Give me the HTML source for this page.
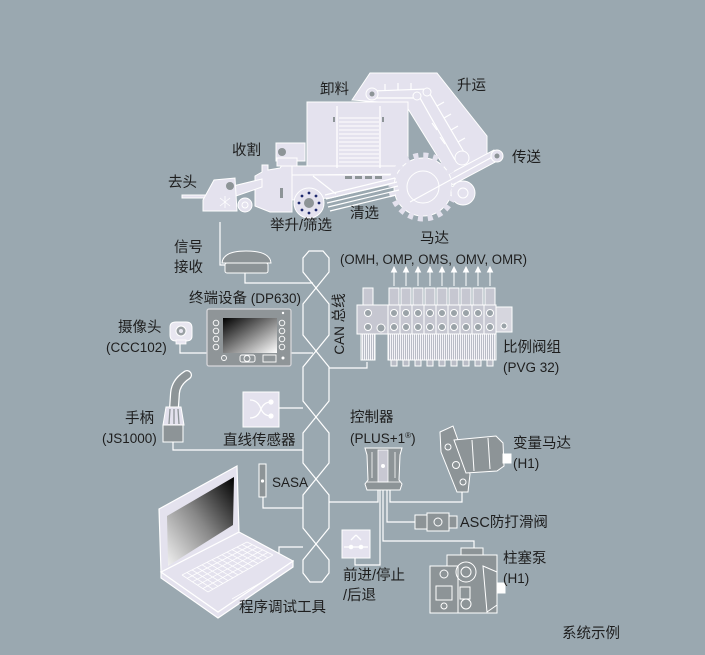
<!DOCTYPE html>
<html><head><meta charset="utf-8"><style>
html,body{margin:0;padding:0;background:#9aa8b0;}
svg{display:block;}
text{font-family:"Liberation Sans","Noto Sans CJK SC",sans-serif;fill:#1e1e1e;}
.c{font-size:14.5px;}
.l{font-size:13.5px;}
</style></head><body>
<svg width="705" height="655" viewBox="0 0 705 655" xmlns="http://www.w3.org/2000/svg">
<defs>
<linearGradient id="scr" x1="0" y1="0" x2="1" y2="1">
<stop offset="0" stop-color="#000"/><stop offset="1" stop-color="#fff"/>
</linearGradient>
<linearGradient id="lap" x1="0" y1="1" x2="1" y2="0">
<stop offset="0" stop-color="#f2f2f2"/><stop offset="0.5" stop-color="#888"/><stop offset="1" stop-color="#000"/>
</linearGradient>
<pattern id="stripe" width="2" height="4" patternUnits="userSpaceOnUse">
<rect width="2" height="4" fill="#b9bcc6"/><rect width="1" height="4" fill="#f4f4f8"/>
</pattern>
</defs>
<rect width="705" height="655" fill="#9aa8b0"/>

<!-- ================= HARVESTER ================= -->
<g stroke="#fff" stroke-width="1" fill="#e4e2ee">
<polygon points="352,100 370,73 437,73 487,136 487,158 462,174 446,170 405,104"/>
<rect x="307" y="102" width="101" height="68"/>
<polygon points="292,166 410,166 412,174 292,175"/>
<polygon points="292,175 405,175 400,182 330,198 292,200"/>
<polygon points="255,176 262,172 262,165 268,165 268,170 280,168 285,161 292,161 292,212 270,212 255,206"/>
<rect x="276" y="143" width="29" height="18"/>
<rect x="277" y="158" width="20" height="8"/>
<polygon points="233,186 262,179 262,187 236,196"/>
<rect x="182" y="195" width="33" height="3"/>
<polygon points="203,200 214,180 235,178 237,211 203,211"/>
<polygon points="406,197 494,150 501,159 411,207"/>
<circle cx="423" cy="187" r="29"/>
<circle cx="463" cy="193" r="12"/>
<circle cx="309" cy="203" r="15"/>
<circle cx="245" cy="205" r="7"/>
</g>
<circle cx="423" cy="187" r="31.5" fill="none" stroke="#e4e2ee" stroke-width="6" stroke-dasharray="5 4.9"/>
<circle cx="423" cy="187" r="16" fill="none" stroke="#fff" stroke-width="1"/>
<circle cx="463" cy="193" r="5" fill="none" stroke="#fff" stroke-width="1"/>
<circle cx="245" cy="205" r="3" fill="none" stroke="#fff" stroke-width="1"/>
<g stroke="#fff" stroke-width="1.3">
<line x1="337" y1="106" x2="337" y2="168"/><line x1="380" y1="106" x2="380" y2="168"/>
</g>
<g stroke="#fff" stroke-width="1">
<line x1="339" y1="118" x2="379" y2="118"/><line x1="339" y1="122" x2="379" y2="122"/>
<line x1="339" y1="126" x2="379" y2="126"/><line x1="339" y1="130" x2="379" y2="130"/>
<line x1="339" y1="134" x2="379" y2="134"/><line x1="339" y1="138" x2="379" y2="138"/>
<line x1="339" y1="142" x2="379" y2="142"/><line x1="339" y1="146" x2="379" y2="146"/>
<line x1="339" y1="150" x2="379" y2="150"/><line x1="339" y1="154" x2="379" y2="154"/>
<line x1="339" y1="158" x2="379" y2="158"/><line x1="339" y1="162" x2="379" y2="162"/>
</g>
<rect x="333" y="117" width="2" height="5" fill="#8d9497"/><rect x="382" y="117" width="2" height="5" fill="#8d9497"/>
<g stroke="#fff" stroke-width="1.2" fill="none">
<polyline points="372,91 427,89 464,152"/>
<polyline points="372,98 420,98 455,160"/>
<line x1="385" y1="91" x2="385" y2="84"/><line x1="398" y1="90" x2="398" y2="83"/><line x1="411" y1="90" x2="411" y2="83"/>
<line x1="437" y1="106" x2="444" y2="102"/><line x1="444" y1="118" x2="451" y2="114"/><line x1="451" y1="130" x2="458" y2="126"/><line x1="458" y1="142" x2="465" y2="138"/>
<line x1="432" y1="123" x2="437" y2="130"/><line x1="440" y1="137" x2="445" y2="144"/>
<line x1="410" y1="202" x2="496" y2="155"/>
<line x1="325" y1="195" x2="395" y2="178"/><line x1="326" y1="199" x2="397" y2="182"/>
<line x1="327" y1="203" x2="398" y2="186"/><line x1="328" y1="207" x2="399" y2="190"/>
<line x1="330" y1="211" x2="396" y2="195"/>
<line x1="313" y1="176" x2="336" y2="194"/>
</g>
<g stroke="#fff" stroke-width="1" fill="#e4e2ee">
<circle cx="372" cy="94" r="6"/><circle cx="417" cy="96" r="4"/><circle cx="427" cy="92" r="4"/>
<circle cx="462" cy="158" r="7"/><circle cx="497" cy="156" r="6"/>
</g>
<g fill="#8d9497">
<circle cx="372" cy="94" r="2.5"/><circle cx="497" cy="156" r="2.5"/>
<circle cx="282" cy="152" r="4"/><circle cx="230" cy="186" r="4"/>
<circle cx="309" cy="203" r="5"/>
<rect x="280" y="188" width="3" height="10"/>
<rect x="345" y="176" width="7" height="3"/><rect x="355" y="176" width="7" height="3"/><rect x="365" y="176" width="7" height="3"/><rect x="375" y="176" width="7" height="3"/>
</g>
<g fill="#1e2a6e">
<circle cx="319" cy="203" r="1.4"/><circle cx="299" cy="203" r="1.4"/><circle cx="309" cy="193" r="1.4"/><circle cx="309" cy="213" r="1.4"/>
<circle cx="316" cy="196" r="1.4"/><circle cx="302" cy="196" r="1.4"/><circle cx="316" cy="210" r="1.4"/><circle cx="302" cy="210" r="1.4"/>
</g>
<g stroke="#fff" stroke-width="0.8"><line x1="220" y1="198" x2="230" y2="206"/><line x1="220" y1="206" x2="230" y2="198"/><line x1="225" y1="196" x2="225" y2="208"/></g>

<text class="c" x="320" y="94">卸料</text>
<text class="c" x="457" y="90">升运</text>
<text class="c" x="512" y="162">传送</text>
<text class="c" x="232" y="155">收割</text>
<text class="c" x="168" y="187">去头</text>
<text class="c" x="270" y="230">举升/筛选</text>
<text class="c" x="350" y="218">清选</text>

<!-- ================= CONNECTORS ================= -->
<g stroke="#fff" stroke-width="1.2" fill="none">
<polyline points="220,222 220,265 225,265"/>
<polyline points="245,273 245,283 313,283"/>
<polyline points="291,353 313,353"/>
<polyline points="180,343 180,353 207,353"/>
<polyline points="329,368 367,368 367,362"/>
<polyline points="279,408 303,408"/>
<polyline points="173,442 173,450 303,450"/>
<polyline points="263,497 263,508 303,508"/>
<polyline points="279,560 279,547 303,547"/>
<polyline points="329,502 378,502 378,490"/>
<polyline points="390,490 390,502 462,502 462,492"/>
<polyline points="387,490 387,522 415,522"/>
<polyline points="383,490 383,541 474,541 474,548"/>
<polyline points="380,490 380,565 355,565 355,558"/>
<polyline points="316,251 309,251 303,258 303,272 329,304 329,335 303,367 303,401 329,433 329,463 303,495 303,528 329,560 329,573 322,582 316,582"/>
<polyline points="316,251 323,251 329,258 329,272 303,304 303,335 329,367 329,401 303,433 303,463 329,495 329,528 303,560 303,573 310,582 316,582"/>
</g>

<!-- ================= RECEIVER ================= -->
<path d="M222,263 Q223,251 246,251 Q270,251 271,263 Z" fill="#8d9497" stroke="#fff" stroke-width="1"/>
<rect x="225" y="263" width="43" height="10" rx="2" fill="#8d9497" stroke="#fff" stroke-width="1"/>
<text class="c" x="174" y="252">信号</text>
<text class="c" x="174" y="272">接收</text>

<!-- ================= TERMINAL ================= -->
<rect x="207" y="309" width="84" height="57" rx="2" fill="#8f9598" stroke="#d6d6da" stroke-width="1.3"/>
<rect x="223" y="318" width="54" height="35" fill="url(#scr)"/>
<g fill="#8f9598" stroke="#fff" stroke-width="0.9">
<circle cx="216" cy="323" r="2.8"/><circle cx="216" cy="331" r="2.8"/><circle cx="216" cy="339" r="2.8"/><circle cx="216" cy="347" r="2.8"/>
<circle cx="282" cy="323" r="2.8"/><circle cx="282" cy="331" r="2.8"/><circle cx="282" cy="339" r="2.8"/><circle cx="282" cy="347" r="2.8"/>
<circle cx="224" cy="358" r="2.5"/>
<rect x="240" y="355" width="15" height="7" rx="2"/><circle cx="247" cy="358.5" r="3"/>
<rect x="263" y="355" width="13" height="7"/>
</g>
<circle cx="283" cy="358" r="1.5" fill="#fff"/><circle cx="283" cy="313" r="1.2" fill="#fff"/>
<text x="189" y="303"><tspan class="c">终端设备</tspan><tspan class="l"> (DP630)</tspan></text>

<!-- ================= CAMERA ================= -->
<path d="M170,327 Q170,322 176,322 L186,322 Q192,322 192,328 L192,336 Q192,341 186,341 L176,341 Q170,341 170,335 Z" fill="#e8e6f0" stroke="#fff" stroke-width="1"/>
<rect x="176" y="340" width="10" height="4" fill="#e8e6f0" stroke="#fff" stroke-width="0.8"/>
<circle cx="181" cy="331" r="5" fill="#9aa0a4" stroke="#fff" stroke-width="1"/>
<circle cx="181" cy="331" r="2" fill="#e8e6f0"/>
<text class="c" x="118" y="332">摄像头</text>
<text class="l" x="106" y="352">(CCC102)</text>

<text class="l" transform="translate(344,324) rotate(-90)" text-anchor="middle"><tspan>CAN </tspan><tspan class="c">总线</tspan></text>

<!-- ================= VALVE BLOCK ================= -->
<g stroke="#fff" stroke-width="1">
<g fill="#fff">
<line x1="394" y1="286" x2="394" y2="271"/><polygon points="391.5,272 396.5,272 394,267"/>
<line x1="406" y1="286" x2="406" y2="271"/><polygon points="403.5,272 408.5,272 406,267"/>
<line x1="418" y1="286" x2="418" y2="271"/><polygon points="415.5,272 420.5,272 418,267"/>
<line x1="430" y1="286" x2="430" y2="271"/><polygon points="427.5,272 432.5,272 430,267"/>
<line x1="442" y1="286" x2="442" y2="271"/><polygon points="439.5,272 444.5,272 442,267"/>
<line x1="454" y1="286" x2="454" y2="271"/><polygon points="451.5,272 456.5,272 454,267"/>
<line x1="466" y1="286" x2="466" y2="271"/><polygon points="463.5,272 468.5,272 466,267"/>
<line x1="478" y1="286" x2="478" y2="271"/><polygon points="475.5,272 480.5,272 478,267"/>
<line x1="490" y1="286" x2="490" y2="271"/><polygon points="487.5,272 492.5,272 490,267"/>
</g>
<g fill="#c6c7d1">
<rect x="363" y="288" width="10" height="17"/>
<rect x="389" y="288" width="10" height="17"/><rect x="401" y="288" width="10" height="17"/><rect x="413" y="288" width="10" height="17"/>
<rect x="425" y="288" width="10" height="17"/><rect x="437" y="288" width="10" height="17"/><rect x="449" y="288" width="10" height="17"/>
<rect x="461" y="288" width="10" height="17"/><rect x="473" y="288" width="10" height="17"/><rect x="485" y="288" width="10" height="17"/>
</g>
<rect x="357" y="305" width="31" height="29" fill="#c6c7d1"/>
<g fill="#c6c7d1">
<rect x="388" y="305" width="12" height="29"/><rect x="400" y="305" width="12" height="29"/><rect x="412" y="305" width="12" height="29"/>
<rect x="424" y="305" width="12" height="29"/><rect x="436" y="305" width="12" height="29"/><rect x="448" y="305" width="12" height="29"/>
<rect x="460" y="305" width="12" height="29"/><rect x="472" y="305" width="12" height="29"/><rect x="484" y="305" width="12" height="29"/>
</g>
<rect x="496" y="307" width="16" height="25" fill="#d6d6de"/>
<rect x="361" y="334" width="14" height="26" fill="url(#stripe)"/>
<rect x="388" y="334" width="108" height="26" fill="url(#stripe)"/>
<g fill="#b9bcc6">
<rect x="391" y="360" width="6" height="6"/><rect x="403" y="360" width="6" height="6"/><rect x="415" y="360" width="6" height="6"/>
<rect x="427" y="360" width="6" height="6"/><rect x="439" y="360" width="6" height="6"/><rect x="451" y="360" width="6" height="6"/>
<rect x="463" y="360" width="6" height="6"/><rect x="475" y="360" width="6" height="6"/><rect x="487" y="360" width="6" height="6"/>
</g>
<g fill="#9aa3a8">
<circle cx="368" cy="313" r="3.5"/><circle cx="368" cy="327" r="3.5"/><circle cx="381" cy="328" r="4"/>
<circle cx="394" cy="313" r="3.5"/><circle cx="394" cy="327" r="3.5"/>
<circle cx="406" cy="313" r="3.5"/><circle cx="406" cy="327" r="3.5"/>
<circle cx="418" cy="313" r="3.5"/><circle cx="418" cy="327" r="3.5"/>
<circle cx="430" cy="313" r="3.5"/><circle cx="430" cy="327" r="3.5"/>
<circle cx="442" cy="313" r="3.5"/><circle cx="442" cy="327" r="3.5"/>
<circle cx="454" cy="313" r="3.5"/><circle cx="454" cy="327" r="3.5"/>
<circle cx="466" cy="313" r="3.5"/><circle cx="466" cy="327" r="3.5"/>
<circle cx="478" cy="313" r="3.5"/><circle cx="478" cy="327" r="3.5"/>
<circle cx="490" cy="313" r="3.5"/><circle cx="490" cy="327" r="3.5"/>
<circle cx="504" cy="326" r="3"/>
</g>
</g>
<text class="c" x="420" y="243">马达</text>
<text class="l" x="340" y="264" textLength="187" lengthAdjust="spacingAndGlyphs">(OMH, OMP, OMS, OMV, OMR)</text>
<text class="c" x="503" y="352">比例阀组</text>
<text class="l" x="503" y="372">(PVG 32)</text>

<!-- ================= JOYSTICK ================= -->
<path d="M174,408 L175,393 Q176,382 187,375" fill="none" stroke="#fff" stroke-width="10" stroke-linecap="round"/>
<path d="M174,408 L175,393 Q176,382 187,375" fill="none" stroke="#8d9497" stroke-width="7.5" stroke-linecap="round"/>
<polygon points="166,407 181,407 184,425 163,425" fill="#e4e2ee" stroke="#fff" stroke-width="1"/>
<g stroke="#8d9497" stroke-width="1.3"><line x1="170" y1="409" x2="169" y2="424"/><line x1="174" y1="409" x2="174" y2="424"/><line x1="178" y1="409" x2="179" y2="424"/></g>
<rect x="163" y="425" width="20" height="17" fill="#8d9497" stroke="#fff" stroke-width="1"/>
<text class="c" x="125" y="423">手柄</text>
<text class="l" x="102" y="443">(JS1000)</text>

<!-- ================= LINEAR SENSOR ================= -->
<rect x="243" y="392" width="36" height="35" fill="#e4e2ee" stroke="#fff" stroke-width="1"/>
<g fill="none" stroke="#fff" stroke-width="1.3">
<path d="M250,400 Q258,400 261,409 Q264,402 271,402"/>
<path d="M250,418 Q258,418 261,409 Q264,416 271,416"/>
</g>
<circle cx="271" cy="402" r="2.6" fill="#fff"/><circle cx="271" cy="416" r="2.6" fill="#fff"/>
<text class="c" x="223" y="445">直线传感器</text>

<!-- ================= SASA ================= -->
<rect x="259" y="464" width="7" height="33" fill="#8d9497" stroke="#fff" stroke-width="1"/>
<circle cx="262.5" cy="481" r="1.6" fill="#fff"/>
<text class="l" x="272" y="487">SASA</text>

<!-- ================= CONTROLLER ================= -->
<path d="M365,448 L402,448 L400,455 L399,480 L402,484 L400,490 L367,490 L365,484 L368,480 L367,455 Z" fill="#8d9497" stroke="#fff" stroke-width="1"/>
<rect x="378" y="450" width="10" height="32" fill="#c8c8d2" stroke="#fff" stroke-width="0.8"/>
<circle cx="383" cy="466" r="2" fill="#fff"/>
<line x1="372" y1="452" x2="372" y2="478" stroke="#fff" stroke-width="0.8"/>
<line x1="395" y1="452" x2="395" y2="478" stroke="#fff" stroke-width="0.8"/>
<line x1="367" y1="482" x2="400" y2="482" stroke="#fff" stroke-width="0.8"/>
<text class="c" x="350" y="422">控制器</text>
<text class="l" x="350" y="443">(PLUS+1<tspan font-size="8" dy="-5">®</tspan><tspan dy="5">)</tspan></text>

<!-- ================= MOTOR ================= -->
<g stroke="#fff" stroke-width="1" fill="#8d9497">
<polygon points="440,432 453,426 470,474 468,492 457,492 441,452"/>
<polygon points="454,440 496,436 503,443 504,466 497,471 466,473"/>
<rect x="503" y="454" width="8" height="9" fill="#fff"/>
<circle cx="448" cy="447" r="3" fill="none"/><circle cx="456" cy="465" r="3.5" fill="none"/><circle cx="463" cy="482" r="3" fill="none"/>
<line x1="472" y1="440" x2="474" y2="471" fill="none"/><line x1="488" y1="438" x2="490" y2="469" fill="none"/>
</g>
<text class="c" x="513" y="448">变量马达</text>
<text class="l" x="513" y="468">(H1)</text>

<!-- ================= ASC ================= -->
<g stroke="#fff" stroke-width="1" fill="#8d9497">
<rect x="415" y="515" width="12" height="14"/>
<rect x="427" y="513" width="22" height="18"/>
<rect x="449" y="516" width="8" height="12"/>
<circle cx="438" cy="522" r="4" fill="none"/>
</g>
<text class="c" x="460" y="527">ASC防打滑阀</text>

<!-- ================= PUMP ================= -->
<g stroke="#fff" stroke-width="1" fill="#8d9497">
<rect x="461" y="548" width="22" height="12"/>
<rect x="447" y="555" width="50" height="58"/>
<rect x="430" y="566" width="28" height="47"/>
<circle cx="466" cy="572" r="10" fill="none"/><circle cx="466" cy="572" r="5" fill="none"/>
<rect x="460" y="587" width="10" height="12" fill="none"/>
<circle cx="466" cy="604" r="5" fill="none"/>
<rect x="436" y="586" width="16" height="14" fill="none"/>
<circle cx="444" cy="574" r="4" fill="none"/><circle cx="444" cy="606" r="3" fill="none"/>
<polygon points="483,566 497,572 497,605 487,612" fill="none"/>
<rect x="497" y="583" width="8" height="10" fill="#fff"/>
</g>
<text class="c" x="503" y="563">柱塞泵</text>
<text class="l" x="503" y="583">(H1)</text>

<!-- ================= SWITCH ================= -->
<rect x="342" y="530" width="28" height="28" fill="#e4e2ee" stroke="#fff" stroke-width="1"/>
<g stroke="#fff" stroke-width="1.3" fill="none">
<line x1="344" y1="547" x2="368" y2="547"/>
<line x1="351" y1="540" x2="356" y2="535"/><line x1="361" y1="540" x2="356" y2="535"/>
</g>
<circle cx="351" cy="547" r="2.3" fill="#fff"/><circle cx="361" cy="547" r="2.3" fill="#fff"/>
<text class="c" x="343" y="580">前进/停止</text>
<text class="c" x="343" y="600">/后退</text>

<!-- ================= LAPTOP ================= -->
<g stroke="#fff" stroke-width="1.2">
<polygon points="161,572 161,578 218,618 293,567 293,561 218,612" fill="#e4e2ee"/>
<polygon points="161,572 239,532 293,561 218,612" fill="#e4e2ee"/>
<polygon points="159,509 237,466 239,532 161,572" fill="#e4e2ee"/>
<polygon points="167,516 234,477 233,525 168,566" fill="url(#lap)" stroke="none"/>
</g>
<g stroke="#fff" stroke-width="0.8">
<line x1="182" y1="575" x2="247" y2="542"/><line x1="187.2" y1="578.4" x2="252.2" y2="544.6"/>
<line x1="192.4" y1="581.8" x2="257.4" y2="547.2"/><line x1="197.6" y1="585.2" x2="262.6" y2="549.8"/>
<line x1="202.8" y1="588.6" x2="267.8" y2="552.4"/><line x1="208" y1="592" x2="273" y2="555"/>
<line x1="182" y1="575" x2="208" y2="592"/><line x1="187" y1="572.5" x2="213" y2="589.2"/>
<line x1="192" y1="569.9" x2="218" y2="586.3"/><line x1="197" y1="567.4" x2="223" y2="583.5"/>
<line x1="202" y1="564.8" x2="228" y2="580.6"/><line x1="207" y1="562.3" x2="233" y2="577.8"/>
<line x1="212" y1="559.8" x2="238" y2="574.9"/><line x1="217" y1="557.2" x2="243" y2="572.1"/>
<line x1="222" y1="554.7" x2="248" y2="569.2"/><line x1="227" y1="552.2" x2="253" y2="566.4"/>
<line x1="232" y1="549.6" x2="258" y2="563.5"/><line x1="237" y1="547.1" x2="263" y2="560.7"/>
<line x1="242" y1="544.5" x2="268" y2="557.8"/><line x1="247" y1="542" x2="273" y2="555"/>
<line x1="232" y1="599" x2="262" y2="582"/>
</g>
<text class="c" x="239" y="612">程序调试工具</text>

<text class="c" x="562" y="638">系统示例</text>
</svg>
</body></html>
